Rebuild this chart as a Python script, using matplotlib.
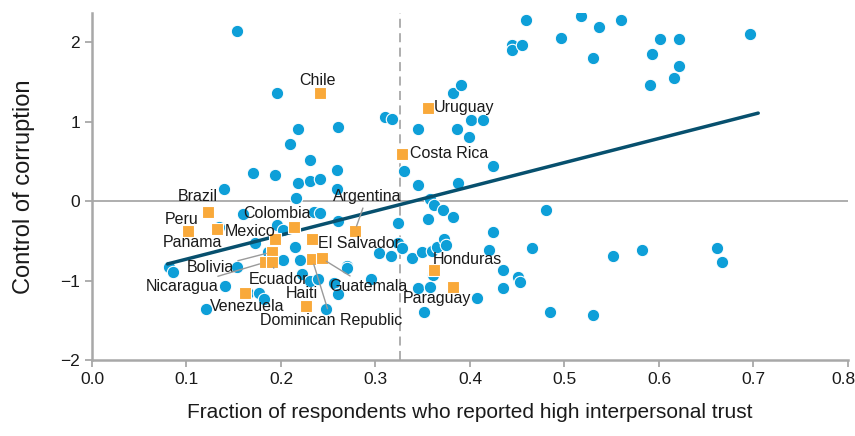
import matplotlib
matplotlib.use("Agg")
import matplotlib.pyplot as plt
import matplotlib.transforms as mtransforms
import numpy as np

plt.rcParams["font.family"] = ["Liberation Sans", "DejaVu Sans"]

# Other countries (blue dots)
other_x = [0.153, 0.196, 0.218, 0.210, 0.231, 0.260, 0.170, 0.194, 0.218, 0.231,
           0.241, 0.140, 0.216, 0.259, 0.259, 0.160, 0.235, 0.241, 0.134, 0.196,
           0.202, 0.172, 0.215, 0.186, 0.202, 0.220, 0.081, 0.086, 0.153, 0.141,
           0.222, 0.231, 0.239, 0.165, 0.177, 0.182, 0.121, 0.248, 0.256, 0.260,
           0.310, 0.317, 0.345, 0.386, 0.401, 0.414, 0.399, 0.424, 0.330, 0.345,
           0.387, 0.358, 0.362, 0.371, 0.382, 0.356, 0.324, 0.424, 0.324, 0.328,
           0.304, 0.316, 0.339, 0.349, 0.360, 0.365, 0.372, 0.375, 0.420, 0.466,
           0.270, 0.270, 0.295, 0.260, 0.361, 0.345, 0.358, 0.435, 0.451, 0.453,
           0.435, 0.407, 0.351, 0.485, 0.530, 0.480, 0.551, 0.582, 0.661, 0.667,
           0.382, 0.390, 0.444, 0.444, 0.455, 0.459, 0.496, 0.517, 0.537, 0.560,
           0.530, 0.601, 0.621, 0.593, 0.621, 0.616, 0.590, 0.696]
other_y = [2.15, 1.36, 0.91, 0.72, 0.52, 0.94, 0.35, 0.33, 0.23, 0.25,
           0.28, 0.16, 0.04, 0.39, 0.15, -0.16, -0.14, -0.15, -0.33, -0.30,
           -0.36, -0.52, -0.58, -0.64, -0.74, -0.74, -0.83, -0.89, -0.83, -1.07,
           -0.92, -1.01, -0.98, -1.16, -1.16, -1.23, -1.36, -1.36, -1.03, -0.25,
           1.06, 1.03, 0.91, 0.91, 1.02, 1.02, 0.81, 0.44, 0.38, 0.20,
           0.23, 0.03, -0.05, -0.11, -0.20, -0.22, -0.28, -0.39, -0.53, -0.59,
           -0.65, -0.69, -0.72, -0.64, -0.63, -0.58, -0.48, -0.55, -0.62, -0.59,
           -0.81, -0.84, -0.98, -1.17, -0.93, -1.09, -1.08, -0.86, -0.96, -1.02,
           -1.09, -1.22, -1.40, -1.40, -1.43, -0.11, -0.69, -0.62, -0.59, -0.77,
           1.36, 1.46, 1.97, 1.91, 1.97, 2.28, 2.06, 2.33, 2.20, 2.28,
           1.81, 2.04, 2.04, 1.85, 1.70, 1.55, 1.46, 2.11]

# Latin American countries (orange squares)
latam_names = ["Chile", "Uruguay", "Costa Rica", "Brazil", "Peru", "Mexico",
               "Colombia", "Panama", "Bolivia", "Nicaragua", "Ecuador",
               "El Salvador", "Dominican Republic", "Guatemala", "Venezuela",
               "Haiti", "Argentina", "Honduras", "Paraguay"]
latam_x = [0.241, 0.356, 0.328, 0.123, 0.102, 0.132, 0.214, 0.194, 0.190, 0.183,
           0.190, 0.233, 0.233, 0.243, 0.162, 0.226, 0.278, 0.362, 0.382]
latam_y = [1.36, 1.17, 0.60, -0.14, -0.38, -0.35, -0.33, -0.48, -0.64, -0.77,
           -0.77, -0.47, -0.73, -0.72, -1.16, -1.32, -0.38, -0.87, -1.08]

# Fitted line end points
fit_x = [0.080, 0.705]
fit_y = [-0.79, 1.11]

# Mean trust (dashed line)
mean_trust = 0.326

# label placement: (x, y, ha, leader line)
label_pos = {
    "Chile": (0.239, 1.52, "center", False),
    "Uruguay": (0.362, 1.18, "left", False),
    "Costa Rica": (0.336, 0.60, "left", False),
    "Brazil": (0.112, 0.06, "center", False),
    "Peru": (0.095, -0.23, "center", False),
    "Panama": (0.106, -0.52, "center", False),
    "Mexico": (0.140, -0.38, "left", False),
    "Colombia": (0.196, -0.15, "center", False),
    "Argentina": (0.291, 0.06, "center", True),
    "El Salvador": (0.239, -0.53, "left", False),
    "Bolivia": (0.125, -0.84, "center", True),
    "Nicaragua": (0.095, -1.08, "center", True),
    "Ecuador": (0.197, -0.99, "center", True),
    "Haiti": (0.222, -1.16, "center", False),
    "Guatemala": (0.292, -1.08, "center", True),
    "Venezuela": (0.164, -1.33, "center", False),
    "Dominican Republic": (0.253, -1.50, "center", True),
    "Honduras": (0.397, -0.73, "center", False),
    "Paraguay": (0.365, -1.22, "center", False),
}

blue = "#0e9fd8"
orange = "#f9a93a"
grey = "#a8a8a8"
label_size = 11.5

fig = plt.figure(figsize=(8.55, 4.36), dpi=100)
ax = fig.add_axes([0.1076, 0.1743, 0.8842, 0.7957])

ax.axhline(0, color=grey, lw=1.3, zorder=1)
ax.axvline(mean_trust, color=grey, lw=1.3, ls=(0, (5, 3)), zorder=1)

ax.scatter(other_x, other_y, s=80, color=blue, edgecolor="white", linewidth=0.8, zorder=3)
ax.plot(fit_x, fit_y, color="#07506e", lw=2.5, solid_capstyle="round", zorder=4)
ax.scatter(latam_x, latam_y, s=70, marker="s", color=orange, edgecolor="white",
           linewidth=0.8, zorder=5)

for name, x, y in zip(latam_names, latam_x, latam_y):
    tx, ty, ha, leader = label_pos[name]
    if leader:
        ax.annotate(name, xy=(x, y), xytext=(tx, ty), ha=ha, va="center",
                    fontsize=label_size, color="#1a1a1a", zorder=6,
                    arrowprops=dict(arrowstyle="-", color="#9a9a9a", lw=1,
                                    shrinkA=1, shrinkB=4))
    else:
        ax.text(tx, ty, name, ha=ha, va="center", fontsize=label_size,
                color="#1a1a1a", zorder=6)

ax.set_xlim(0, 0.8)
ax.set_ylim(-2, 2.37)
xt = np.arange(0, 0.81, 0.1)
ax.set_xticks(xt)
ax.set_xticklabels([f"{v:.1f}" for v in xt])
ax.set_yticks([-2, -1, 0, 1, 2])
ax.set_yticklabels(["\u22122", "\u22121", "0", "1", "2"])

for side in ["top", "right"]:
    ax.spines[side].set_visible(False)
for side in ["left", "bottom"]:
    ax.spines[side].set_color(grey)
    ax.spines[side].set_linewidth(1.8)
ax.tick_params(colors=grey, labelcolor="#1a1a1a", labelsize=12.5, length=5, width=1.3)

# keep the last x tick label inside the figure
last = ax.get_xticklabels()[-1]
last.set_transform(last.get_transform() +
                   mtransforms.ScaledTranslation(-5 / 100, 0, fig.dpi_scale_trans))

ax.set_xlabel("Fraction of respondents who reported high interpersonal trust",
              fontsize=15, labelpad=12, color="#1a1a1a")
ax.set_ylabel("Control of corruption", fontsize=17, labelpad=18, color="#1a1a1a")

fig.savefig("out.png", dpi=100)
